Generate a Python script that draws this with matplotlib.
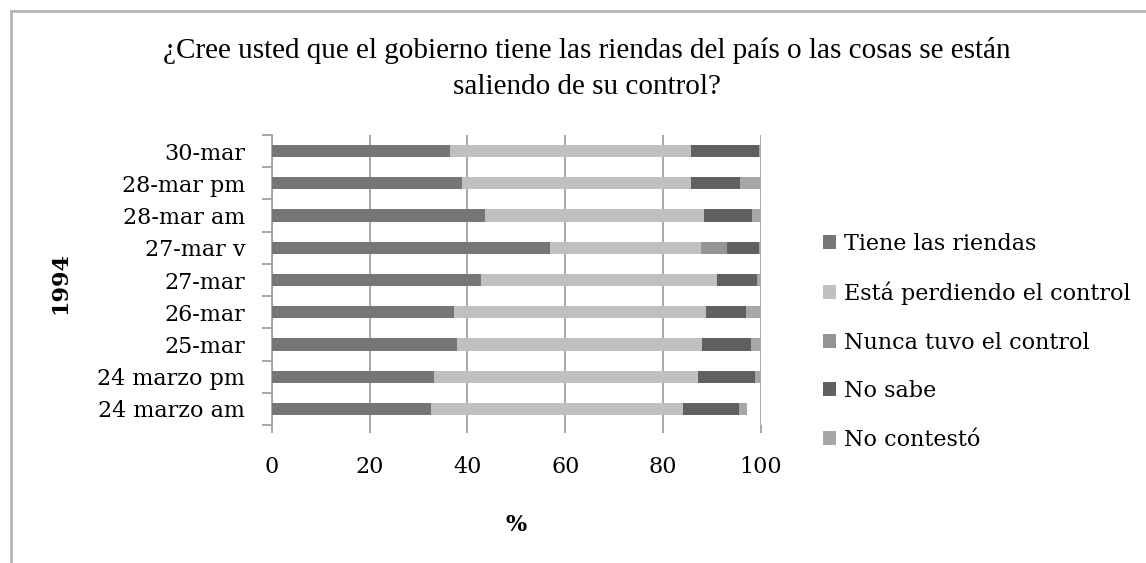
import numpy as np
import matplotlib
matplotlib.use("Agg")
import matplotlib.pyplot as plt
from matplotlib.lines import Line2D

# categories bottom -> top
fechas = ["24 marzo am", "24 marzo pm", "25-mar", "26-mar", "27-mar",
          "27-mar v", "28-mar am", "28-mar pm", "30-mar"]
tiene = [32.5, 33.2, 37.8, 37.3, 42.8, 56.8, 43.5, 38.8, 36.4]
perdiendo = [51.6, 54.0, 50.1, 51.5, 48.1, 30.9, 44.8, 46.8, 49.3]
nunca = [0, 0, 0, 0, 0, 5.4, 0, 0, 0]
no_sabe = [11.3, 11.6, 10.1, 8.2, 8.2, 6.5, 9.9, 10.0, 13.8]
no_contesto = [1.8, 1.2, 2.0, 3.0, 0.9, 0.4, 1.8, 4.4, 0.5]

series = ["Tiene las riendas", "Está perdiendo el control",
          "Nunca tuvo el control", "No sabe", "No contestó"]
colores = ["#767676", "#c0c0c0", "#959595", "#606060", "#a7a7a7"]

plt.rcParams['font.family'] = ['DejaVu Serif']

fig = plt.figure(figsize=(11.46, 5.63), dpi=100)
ax = fig.add_axes([0.2371, 0.2451, 0.4270, 0.5151])

y = np.arange(len(fechas))
left = np.zeros(len(fechas))
for nombre, vals, c in zip(series, [tiene, perdiendo, nunca, no_sabe, no_contesto], colores):
    vals = np.array(vals)
    ax.barh(y, vals, left=left, height=0.38, color=c, label=nombre, zorder=3)
    left += vals

ax.set_xlim(0, 100)
ax.set_ylim(-0.5, len(fechas) - 0.5)
ax.set_xticks([0, 20, 40, 60, 80, 100])
ax.set_yticks(np.arange(-0.5, len(fechas)), labels=[])
ax.set_yticks(y, labels=fechas, minor=True)
ax.tick_params(axis='y', which='major', length=7, color='#a0a0a0', width=1.3)
ax.tick_params(axis='y', which='minor', length=0, pad=19, labelsize=16)
ax.tick_params(axis='x', length=6, color='#a0a0a0', width=1.3, pad=16, labelsize=16)
ax.grid(axis='x', color='#a0a0a0', linewidth=1.3, zorder=0)
for s in ['top', 'right', 'bottom']:
    ax.spines[s].set_visible(False)
ax.spines['left'].set_color('#a0a0a0')
ax.spines['left'].set_linewidth(1.3)

ax.set_xlabel("%", fontsize=16, fontweight='bold', labelpad=26)
fig.text(0.053, 0.497, "1994", rotation=90, fontsize=16, fontweight='bold',
         ha='center', va='center')

fig.text(0.512, 0.911, "¿Cree usted que el gobierno tiene las riendas del país o las cosas se están",
         fontsize=21, family='Liberation Serif', ha='center', va='center')
fig.text(0.512, 0.845, "saliendo de su control?",
         fontsize=21, family='Liberation Serif', ha='center', va='center')

ax.legend(loc='upper left', bbox_to_anchor=(0.7105, 0.6025), bbox_transform=fig.transFigure,
          frameon=False, fontsize=16, handlelength=0.6, handleheight=0.6,
          handletextpad=0.35, labelspacing=1.2, borderaxespad=0)

# outer frame (top and left edges)
fig.add_artist(Line2D([0.0096, 1.0], [0.980, 0.980], transform=fig.transFigure,
                      color='#b5b5b5', linewidth=2))
fig.add_artist(Line2D([0.0096, 0.0096], [0.0, 0.980], transform=fig.transFigure,
                      color='#b5b5b5', linewidth=2))

fig.savefig("out.png", dpi=100)
